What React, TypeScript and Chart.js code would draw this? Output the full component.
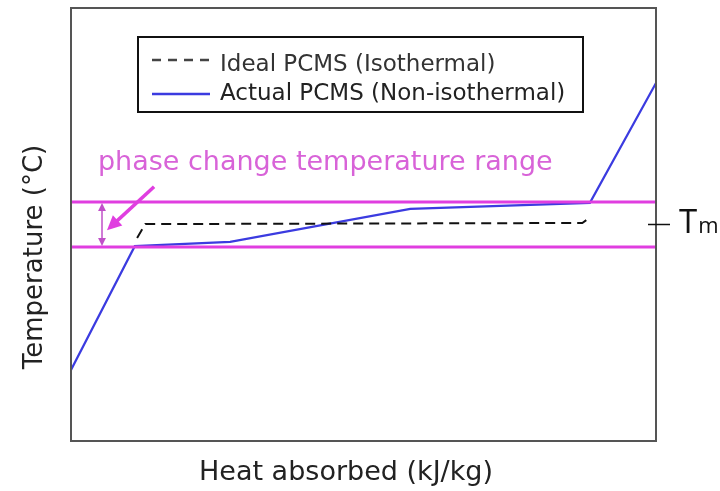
import React, { useEffect, useRef } from "react";
import { Chart, registerables } from "chart.js";

Chart.register(...registerables);

// ---- data (axis units 0..100, no ticks shown) ----
const actualX = [0, 10.9, 27.2, 58.0, 88.7, 100];
const actualY = [16.4, 45.0, 46.0, 53.6, 55.0, 82.7];
const idealX = [11.3, 12.7, 87.4, 88.6];
const idealY = [46.9, 50.1, 50.35, 51.5];
const rangeX = [0, 100];
const rangeUpper = [55.2, 55.2];
const rangeLower = [44.8, 44.8];
const seriesLabels = ["Ideal PCMS (Isothermal)", "Actual PCMS (Non-isothermal)"];
const tmValue = 50;
const tmLabel = ["T", "m"];
const annotationText = "phase change temperature range";
const annotationPos = [4.6, 62.5];
const doubleArrowX = 5.3;
const pointerFrom = [14.2, 58.7];
const pointerTo = [6.15, 48.7];
const xTitle = "Heat absorbed (kJ/kg)";
const yTitle = "Temperature (°C)";

const FONT = "'DejaVu Sans', 'Open Sans', sans-serif";
const TFONT = "'Open Sans', 'Noto Sans', sans-serif";
const MAGENTA = "#e03ee0";
const MAGENTA_TEXT = "#d863d8";
const BLUE = "#3b3be0";

function arrowHead(ctx: CanvasRenderingContext2D, fx: number, fy: number, tx: number, ty: number, size: number) {
  const a = Math.atan2(ty - fy, tx - fx);
  ctx.beginPath();
  ctx.moveTo(tx, ty);
  ctx.lineTo(tx - size * Math.cos(a - 0.45), ty - size * Math.sin(a - 0.45));
  ctx.lineTo(tx - size * Math.cos(a + 0.45), ty - size * Math.sin(a + 0.45));
  ctx.closePath();
  ctx.fill();
}

const overlay = {
  id: "overlay",
  afterDatasetsDraw(chart: any) {
    const ctx: CanvasRenderingContext2D = chart.ctx;
    const xs = chart.scales.x;
    const ys = chart.scales.y;
    const ca = chart.chartArea;
    ctx.save();

    // plot border
    ctx.strokeStyle = "#555";
    ctx.lineWidth = 2;
    ctx.strokeRect(ca.left, ca.top, ca.right - ca.left, ca.bottom - ca.top);

    // legend box
    const lx = 138, ly = 37, lw = 445, lh = 75;
    ctx.fillStyle = "#fff";
    ctx.fillRect(lx, ly, lw, lh);
    ctx.strokeStyle = "#111";
    ctx.lineWidth = 2;
    ctx.strokeRect(lx, ly, lw, lh);
    ctx.font = `23px ${FONT}`;
    ctx.textBaseline = "alphabetic";
    ctx.textAlign = "left";
    // row 1 dashed
    ctx.strokeStyle = "#444";
    ctx.lineWidth = 2.5;
    ctx.setLineDash([9, 7]);
    ctx.beginPath();
    ctx.moveTo(152, 60);
    ctx.lineTo(210, 60);
    ctx.stroke();
    ctx.setLineDash([]);
    ctx.fillStyle = "#333";
    ctx.fillText(seriesLabels[0], 220, 71);
    // row 2 solid blue
    ctx.strokeStyle = BLUE;
    ctx.lineWidth = 2.5;
    ctx.beginPath();
    ctx.moveTo(152, 94);
    ctx.lineTo(210, 94);
    ctx.stroke();
    ctx.fillStyle = "#222";
    ctx.fillText(seriesLabels[1], 220, 100);

    // phase change text
    ctx.fillStyle = MAGENTA_TEXT;
    ctx.font = `27px ${FONT}`;
    ctx.fillText(annotationText, xs.getPixelForValue(annotationPos[0]), ys.getPixelForValue(annotationPos[1]));

    // double arrow between range lines
    const dx = xs.getPixelForValue(doubleArrowX);
    const dTop = ys.getPixelForValue(rangeUpper[0]);
    const dBot = ys.getPixelForValue(rangeLower[0]);
    ctx.strokeStyle = "#c050c8";
    ctx.fillStyle = "#c050c8";
    ctx.lineWidth = 1.5;
    ctx.beginPath();
    ctx.moveTo(dx, dTop + 4);
    ctx.lineTo(dx, dBot - 4);
    ctx.stroke();
    arrowHead(ctx, dx, dBot, dx, dTop + 1, 9);
    arrowHead(ctx, dx, dTop, dx, dBot - 1, 9);

    // pointer arrow
    const px1 = xs.getPixelForValue(pointerFrom[0]);
    const py1 = ys.getPixelForValue(pointerFrom[1]);
    const px2 = xs.getPixelForValue(pointerTo[0]);
    const py2 = ys.getPixelForValue(pointerTo[1]);
    const ang = Math.atan2(py2 - py1, px2 - px1);
    ctx.strokeStyle = MAGENTA;
    ctx.fillStyle = MAGENTA;
    ctx.lineWidth = 3.5;
    ctx.beginPath();
    ctx.moveTo(px1, py1);
    ctx.lineTo(px2 - 10 * Math.cos(ang), py2 - 10 * Math.sin(ang));
    ctx.stroke();
    arrowHead(ctx, px1, py1, px2, py2, 16);

    // Tm tick and label
    const ty = ys.getPixelForValue(tmValue);
    ctx.strokeStyle = "#111";
    ctx.lineWidth = 1.5;
    ctx.beginPath();
    ctx.moveTo(ca.right - 8, ty);
    ctx.lineTo(ca.right + 14, ty);
    ctx.stroke();
    ctx.fillStyle = "#111";
    ctx.font = `33px ${TFONT}`;
    ctx.textBaseline = "alphabetic";
    ctx.fillText(tmLabel[0], ca.right + 23, ty + 8);
    const tw = ctx.measureText(tmLabel[0]).width;
    ctx.font = `22px ${TFONT}`;
    ctx.fillText(tmLabel[1], ca.right + 23 + tw + 1, ty + 8);

    // axis titles
    ctx.fillStyle = "#222";
    ctx.font = `27px ${FONT}`;
    ctx.textAlign = "center";
    ctx.textBaseline = "alphabetic";
    ctx.fillText(xTitle, 346, 480);
    ctx.font = `26px ${FONT}`;
    ctx.save();
    ctx.translate(42, 257);
    ctx.rotate(-Math.PI / 2);
    ctx.fillText(yTitle, 0, 0);
    ctx.restore();

    ctx.restore();
  },
};

export default function App() {
  const ref = useRef<HTMLCanvasElement | null>(null);
  useEffect(() => {
    if (!ref.current) return;
    const toPts = (xs: number[], ys: number[]) => xs.map((x, i) => ({ x, y: ys[i] }));
    const chart = new Chart(ref.current, {
      type: "line",
      data: {
        datasets: [
          { label: "range upper", data: toPts(rangeX, rangeUpper), borderColor: MAGENTA, borderWidth: 3, pointRadius: 0 },
          { label: "range lower", data: toPts(rangeX, rangeLower), borderColor: MAGENTA, borderWidth: 3, pointRadius: 0 },
          { label: seriesLabels[0], data: toPts(idealX, idealY), borderColor: "#111", borderWidth: 2, borderDash: [10, 6], pointRadius: 0 },
          { label: seriesLabels[1], data: toPts(actualX, actualY), borderColor: BLUE, borderWidth: 2.2, pointRadius: 0 },
        ],
      },
      options: {
        animation: false,
        responsive: false,
        layout: { padding: { left: 71, top: 8, right: 64, bottom: 50 } },
        scales: {
          x: { type: "linear", min: 0, max: 100, display: false },
          y: { type: "linear", min: 0, max: 100, display: false },
        },
        plugins: { legend: { display: false }, tooltip: { enabled: false } },
      },
      plugins: [overlay],
    });
    return () => chart.destroy();
  }, []);
  return (
    <div style={{ position: "fixed", left: 0, top: 0, width: 720, height: 491, background: "#fff" }}>
      <canvas ref={ref} width={720} height={491} />
    </div>
  );
}
